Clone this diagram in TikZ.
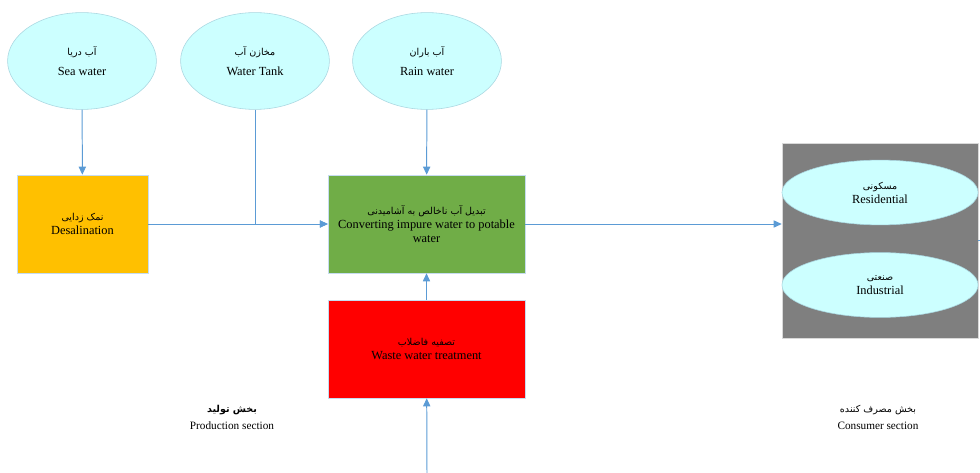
\documentclass[tikz,border=0pt]{standalone}
\usepackage{fontspec}
\setmainfont{Liberation Serif}
\newfontfamily\farsi[Script=Arabic]{DejaVu Sans}
\TeXXeTstate=1
\usetikzlibrary{shapes.geometric}
\usetikzlibrary{arrows.meta}
\definecolor{skyfill}{HTML}{CCFFFF}
\definecolor{skyline}{HTML}{A9D6E0}
\definecolor{flowblue}{HTML}{5B9BD5}
\definecolor{desalfill}{HTML}{FFC000}
\definecolor{convfill}{HTML}{70AD47}
\definecolor{consgray}{HTML}{7F7F7F}
\newcommand{\fa}[1]{{\farsi\fontsize{6.8}{8}\selectfont\beginR #1\endR}}

\tikzset{
    source/.style={ellipse, draw=skyline, fill=skyfill, minimum width=3.72cm, minimum height=2.42cm, inner sep=0pt, align=center, font=\fontsize{8.8}{10}\selectfont},
    user/.style={ellipse, draw=skyline, fill=skyfill, minimum width=4.9cm, minimum height=1.62cm, inner sep=0pt, align=center, font=\fontsize{8.8}{10}\selectfont},
    stage/.style={rectangle, draw=flowblue!35, minimum width=3.28cm, minimum height=2.45cm, inner sep=0pt, align=center, font=\fontsize{8.8}{10}\selectfont},
    caption/.style={align=center, font=\fontsize{8}{10}\selectfont},
    flow/.style={->, draw=flowblue, line width=0.7pt},
    flowline/.style={draw=flowblue, line width=0.7pt}
}

\begin{document}
\begin{tikzpicture}[x=0.025cm, y=-0.025cm, >={Stealth[length=2mm,width=1.8mm,inset=0pt]}]
    \useasboundingbox (0,0) rectangle (980,473);
    \node[source] (sea) at (82,61) {\fa{آب دریا}\\[4pt]Sea water};
    \node[source] (tank) at (255,61) {\fa{مخازن آب}\\[4pt]Water Tank};
    \node[source] (rain) at (427,61) {\fa{آب باران}\\[4pt]Rain water};
    \node[stage, fill=desalfill] (desal) at (82.5,224) {\fa{نمک زدایی}\\Desalination};
    \node[stage, fill=convfill, minimum width=4.92cm] (conv) at (426.5,224) {\fa{تبدیل آب ناخالص به آشامیدنی}\\Converting impure water to potable\\water};
    \node[stage, fill=red, minimum width=4.92cm] (waste) at (426.5,349) {\fa{تصفیه فاضلاب}\\Waste water treatment};
    \node[rectangle, draw=black!15, fill=consgray, minimum width=4.9cm, minimum height=4.88cm, inner sep=0pt] (cons) at (880,240.5) {};
    \node[user] (res) at (880,192.5) {\fa{مسکونی}\\Residential};
    \node[user] (ind) at (880,285) {\fa{صنعتی}\\Industrial};
    \node[caption] (prod) at (232,417) {\fa{\bfseries بخش تولید}\\[2pt]Production section};
    \node[caption] (consumer) at (878,417) {\fa{بخش مصرف کننده}\\[2pt]Consumer section};
    \coordinate (inlet) at (427,473);
    \coordinate (outlet) at (980,240.5);
    \draw[flow] (sea) -- (desal);
    \draw[flow] (desal) -- (conv);
    \draw[flow] (tank) |- (conv);
    \draw[flow] (rain) -- (conv);
    \draw[flow] (waste) -- (conv);
    \draw[flow] (inlet) -- (waste);
    \draw[flow] (conv) -- (conv -| cons.west);
    \draw[flowline] (cons) -- (outlet);
\end{tikzpicture}
\end{document}
